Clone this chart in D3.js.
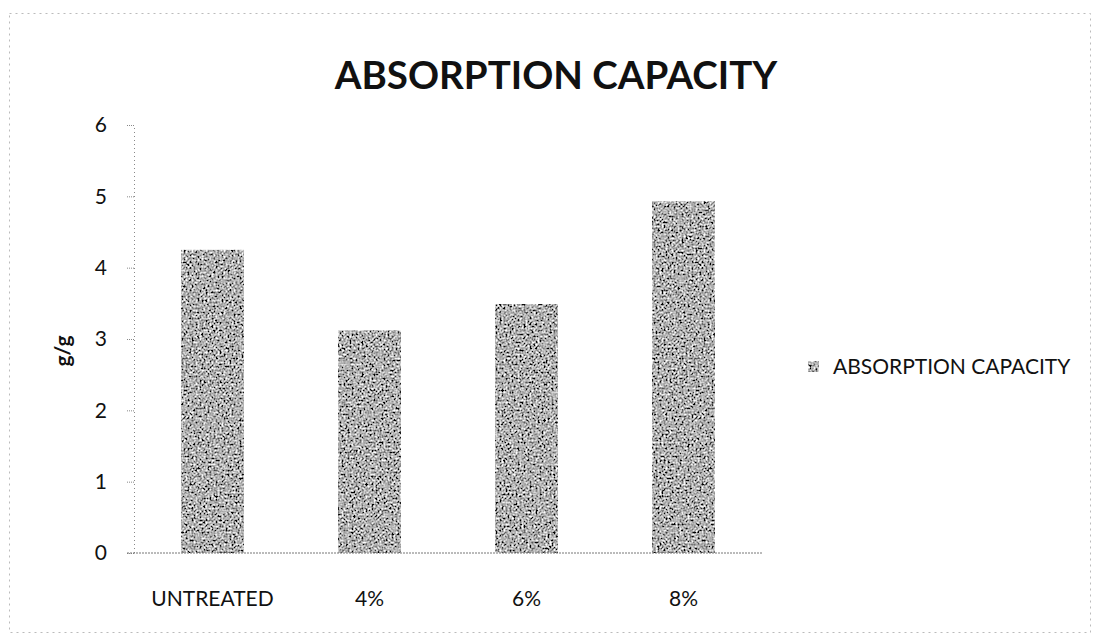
<!DOCTYPE html>
<html>
<head>
<meta charset="utf-8">
<script src="https://cdn.jsdelivr.net/npm/d3@7/dist/d3.min.js"></script>
<style>
  html, body { margin: 0; padding: 0; background: #fff; }
  svg { display: block; font-family: Lato, "Open Sans", sans-serif; }
</style>
</head>
<body>
<svg id="chart" width="1095" height="636"></svg>
<script>
// Absorption capacity (g/g) by treatment
const categories = ["UNTREATED", "4%", "6%", "8%"];
const values = [4.25, 3.12, 3.49, 4.93];
const yTicks = [0, 1, 2, 3, 4, 5, 6];
const seriesName = "ABSORPTION CAPACITY";
const chartTitle = "ABSORPTION CAPACITY";
const yLabel = "g/g";

const FONT = "Lato, 'Open Sans', sans-serif";
const svg = d3.select("#chart");
const W = 1095, H = 636;
const plot = { left: 134, right: 762, top: 125, bottom: 553 };

// Grainy grey fill for the bars
const defs = svg.append("defs");
const grain = defs.append("filter").attr("id", "grain")
  .attr("x", 0).attr("y", 0).attr("width", 1).attr("height", 1);
grain.append("feTurbulence").attr("type", "fractalNoise")
  .attr("baseFrequency", 0.5).attr("numOctaves", 2).attr("seed", 7).attr("result", "noise");
grain.append("feColorMatrix").attr("in", "noise").attr("type", "matrix")
  .attr("values", "0.33 0.33 0.33 0 0  0.33 0.33 0.33 0 0  0.33 0.33 0.33 0 0  0 0 0 0 1")
  .attr("result", "grey");
const ct = grain.append("feComponentTransfer").attr("in", "grey").attr("result", "contrast");
["feFuncR", "feFuncG", "feFuncB"].forEach(f =>
  ct.append(f).attr("type", "linear").attr("slope", 3.8).attr("intercept", -1.45));
grain.append("feComposite").attr("in", "contrast").attr("in2", "SourceGraphic").attr("operator", "in");

// Faint dotted frame of the chart area
svg.append("rect")
  .attr("x", 9.5).attr("y", 13.5).attr("width", W - 14).attr("height", H - 17)
  .attr("fill", "none").attr("stroke", "#bbb").attr("stroke-width", 1)
  .attr("stroke-dasharray", "2,4");

const x = d3.scaleBand().domain(categories)
  .range([plot.left, plot.right]).paddingInner(0.6).paddingOuter(0.3);
const y = d3.scaleLinear().domain([0, 6]).range([plot.bottom, plot.top]);

// Bars
svg.append("g").selectAll("rect").data(values).join("rect")
  .attr("x", (d, i) => x(categories[i]))
  .attr("y", d => y(d))
  .attr("width", x.bandwidth())
  .attr("height", d => y(0) - y(d))
  .attr("fill", "#888")
  .attr("filter", "url(#grain)");

// Y axis
const yAxis = svg.append("g").attr("transform", `translate(${plot.left},0)`)
  .call(d3.axisLeft(y).tickValues(yTicks).tickSize(7).tickPadding(20).tickFormat(d3.format("d")));
yAxis.select(".domain").attr("stroke", "#888").attr("stroke-dasharray", "1,3");
yAxis.selectAll(".tick line").attr("stroke", "#888").attr("stroke-dasharray", "1,1");
yAxis.selectAll(".tick text").attr("font-size", 21).attr("fill", "#111")
  .attr("font-family", FONT);

// X axis baseline and category labels
const xAxis = svg.append("g").attr("transform", `translate(0,${plot.bottom})`)
  .call(d3.axisBottom(x).tickSize(0).tickPadding(38));
xAxis.select(".domain").attr("stroke", "#777").attr("stroke-dasharray", "2,1")
  .attr("d", `M${plot.left - 7},0H${plot.right}`);
xAxis.selectAll(".tick text").attr("font-size", 21).attr("fill", "#111")
  .attr("font-family", FONT);

// Title
svg.append("text").attr("x", 556).attr("y", 89)
  .attr("text-anchor", "middle").attr("font-size", 38.5).attr("font-weight", "bold")
  .attr("font-family", FONT).attr("fill", "#111").text(chartTitle);

// Y axis title
svg.append("text")
  .attr("transform", `translate(70,${(plot.top + plot.bottom) / 2 + 12}) rotate(-90)`)
  .attr("text-anchor", "middle").attr("font-size", 21).attr("font-weight", "bold")
  .attr("font-family", FONT).attr("fill", "#111").text(yLabel);

// Legend
const lg = svg.append("g").attr("transform", "translate(808,361)");
lg.append("rect").attr("width", 11).attr("height", 11).attr("fill", "#888").attr("filter", "url(#grain)");
lg.append("text").attr("x", 25).attr("y", 13).attr("font-size", 21)
  .attr("font-family", FONT).attr("fill", "#111").text(seriesName);
</script>
</body>
</html>
